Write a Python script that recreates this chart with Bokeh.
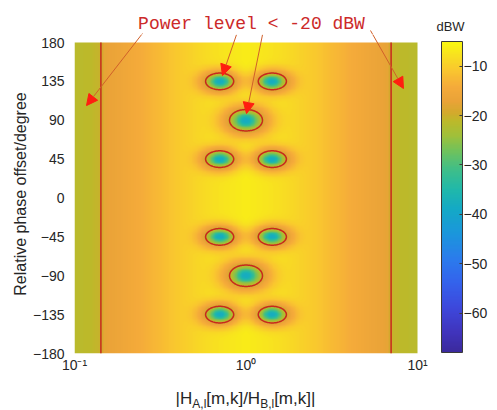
import numpy as np
from bokeh.plotting import figure
from bokeh.layouts import column
from bokeh.models import (LinearColorMapper, ColorBar, FixedTicker, Arrow, NormalHead,
                          ColumnDataSource, Range1d)
from bokeh.core.properties import value
from bokeh.embed import file_html
from bokeh.resources import INLINE

# ---------------- data ----------------
x_ticks = [0.1, 1.0, 10.0]
x_tick_labels = ["10\u207b\u00b9", "10\u2070", "10\u00b9"]
y_ticks = [-180, -135, -90, -45, 0, 45, 90, 135, 180]
cbar_ticks = [-60, -50, -40, -30, -20, -10]
cbar_low, cbar_high = -68.0, -5.0

# power minima (nulls): amplitude ratio, phase offset, size, depth
null_ratio = [0.707, 1.414, 1.0, 0.707, 1.414, 0.707, 1.414, 1.0, 0.707, 1.414]
null_phase = [135, 135, 90, 45, 45, -45, -45, -90, -135, -135]
null_half_width_dec = [0.081, 0.081, 0.092, 0.081, 0.081, 0.081, 0.081, 0.092, 0.081, 0.081]
null_half_height_deg = [9.6, 9.6, 12.3, 9.6, 9.6, 9.6, 9.6, 12.3, 9.6, 9.6]
null_depth_db = [-38, -38, -38, -38, -38, -38, -38, -38, -38, -38]

# background power level across log10 of the amplitude ratio
bg_log_ratio = [-1.0, -0.9, -0.85, -0.845, -0.83, -0.7, -0.55, -0.4, -0.2, 0.0,
                0.2, 0.4, 0.55, 0.7, 0.83, 0.845, 0.85, 0.9, 1.0]
bg_power_db = [-21.5, -21.0, -20.3, -20.0, -17.5, -15.5, -13.0, -10.5, -8.0, -6.5,
               -8.0, -10.5, -13.0, -15.5, -17.5, -20.0, -20.3, -21.0, -21.5]
contour_level = -20.0

# annotation arrows: start / end in (ratio, degree)
arrow_x0 = [0.249, 0.88, 1.248, 5.32]
arrow_y0 = [190.4, 189.0, 189.0, 193.9]
arrow_x1 = [0.1175, 0.729, 1.007, 8.28]
arrow_y1 = [107.0, 141.8, 97.8, 126.8]

# colormap stops (dB -> colour)
cmap_db = [-68, -64, -59, -54, -49, -44, -39, -35, -31, -27, -24, -21, -19.5, -17, -14, -11, -8, -5]
cmap_hex = ["#3b2a9c", "#4034bc", "#3d48dc", "#3462ec", "#2b7cec", "#1b96dc", "#14a9c6",
            "#20b8aa", "#3ebe8a", "#72c25a", "#a0c03a", "#bdb92a", "#d2aa2c", "#eaa338",
            "#f5ab3a", "#f9c430", "#f8de22", "#f9f80f"]

# ---------------- layout constants (pixels) ----------------
W = 497
LEFT, RIGHT_10, TOP_180, BOT = 74, 417, 42, 353
STRIP_TOP = 34
STRIP_BOT = 27
PX_DEC = (RIGHT_10 - LEFT) / 2.0
PX_DEG = (BOT - TOP_180) / 360.0
BASE_SHIFT = 0.32  # renderer draws alphabetic baseline ~0.32 em low


def to_px(xr, yd):
    return LEFT + PX_DEC * (np.log10(xr) + 1), TOP_180 + (180 - np.asarray(yd)) * PX_DEG


# ---------------- build the field ----------------
nx, ny = 420, 361
u = np.linspace(-1, 1, nx)
phi = np.linspace(-180, 180, ny)
U, PHI = np.meshgrid(u, phi)
B = np.interp(U, bg_log_ratio, bg_power_db)
lin = 10 ** (B / 10)
for r0, p0, a, b, d in zip(null_ratio, null_phase, null_half_width_dec,
                           null_half_height_deg, null_depth_db):
    u0 = np.log10(r0)
    b0 = np.interp(u0, bg_log_ratio, bg_power_db)
    eps = 10 ** ((d - b0) / 10)
    f0 = 10 ** ((contour_level - b0) / 10)
    t = -np.log(1 - (f0 - eps) / (1 - eps))
    e = np.sqrt(((U - u0) / a) ** 2 + ((PHI - p0) / b) ** 2)
    lin = lin * (eps + (1 - eps) * (1 - np.exp(-t * e ** 4)))
Z = 10 * np.log10(lin)


def hex2rgb(h):
    return np.array([int(h[i:i + 2], 16) for i in (1, 3, 5)], float)


levels = np.linspace(cbar_low, cbar_high, 256)
rgb = np.array([hex2rgb(h) for h in cmap_hex])
palette = []
for lv in levels:
    c = [np.interp(lv, cmap_db, rgb[:, k]) for k in range(3)]
    palette.append("#%02x%02x%02x" % tuple(int(round(v)) for v in c))
mapper = LinearColorMapper(palette=palette, low=cbar_low, high=cbar_high)

# ---------------- main figure ----------------
main_h = 410 - STRIP_TOP - STRIP_BOT
x_end = 10 ** (-1 + (W - LEFT) / PX_DEC)
y_top = 180 + (TOP_180 - STRIP_TOP) / PX_DEG
p = figure(width=W, height=main_h, x_axis_type="log", title=None,
           x_range=Range1d(0.1, x_end), y_range=Range1d(-180, y_top),
           output_backend="svg", toolbar_location=None,
           min_border_left=LEFT, min_border_right=0, min_border_top=0,
           min_border_bottom=main_h - (BOT - STRIP_TOP))
p.image(image=[Z], x=0.1, y=-180, dw=9.9, dh=360, color_mapper=mapper)
p.contour(x=10 ** U, y=PHI, z=Z, levels=[contour_level], line_color="#c8281e", line_width=1.5)

p.grid.visible = False
p.outline_line_color = None
for ax in (p.xaxis[0], p.yaxis[0]):
    ax.axis_line_color = None
    ax.major_tick_line_color = None
    ax.minor_tick_line_color = None
    ax.major_tick_out = 0
    ax.major_tick_in = 0
    ax.minor_tick_out = 0
    ax.minor_tick_in = 0
    ax.major_label_text_font = "Liberation Sans"
    ax.major_label_text_font_size = "14px"
    ax.major_label_text_color = "#262626"
    ax.axis_label_text_font = "Liberation Sans"
    ax.axis_label_text_font_style = "normal"
    ax.axis_label_text_color = "#262626"
p.xaxis.ticker = FixedTicker(ticks=x_ticks)
p.xaxis.major_label_overrides = {t: s for t, s in zip(x_ticks, x_tick_labels)}
p.xaxis.major_label_standoff = 3
p.yaxis.ticker = FixedTicker(ticks=y_ticks)
p.yaxis.major_label_standoff = 10
p.yaxis.axis_label = "Relative phase offset/degree"
p.yaxis.axis_label_text_font_size = "16px"
p.yaxis.axis_label_standoff = 1

cb = ColorBar(color_mapper=mapper, ticker=FixedTicker(ticks=cbar_ticks), width=21,
              height=BOT - TOP_180, location=(441 - LEFT, 1), padding=0, margin=0,
              bar_line_color="#3a3a3a", major_tick_line_color="#3a3a3a",
              major_tick_in=3, major_tick_out=0, label_standoff=1,
              major_label_text_font="Liberation Sans", major_label_text_font_size="14px",
              major_label_text_color="#262626", background_fill_alpha=0)
p.add_layout(cb, "center")

arrows = ColumnDataSource(dict(x0=arrow_x0, y0=arrow_y0, x1=arrow_x1, y1=arrow_y1))
p.add_layout(Arrow(source=arrows, x_start="x0", y_start="y0", x_end="x1", y_end="y1",
                   line_color="#d0602a", line_width=1,
                   end=NormalHead(size=11, fill_color="#ff1e10", line_color="#ff1e10")))


# ---------------- strips for text outside the plot frame (pixel coordinates) ----------------
def strip(h):
    s = figure(width=W, height=h, x_range=Range1d(LEFT, W), y_range=Range1d(h, 0), title=None,
               output_backend="svg", toolbar_location=None,
               min_border_left=LEFT, min_border_right=0, min_border_top=0, min_border_bottom=0,
               x_axis_location=None, y_axis_location=None)
    s.grid.visible = False
    s.outline_line_color = None
    return s


def put_text(fig, x, baseline, txt, fs, font, color, align):
    fig.text(x=[x], y=[baseline - BASE_SHIFT * fs], text=[txt], text_align=align,
             text_baseline="alphabetic", text_font=value(font),
             text_font_size=value("%dpx" % fs), text_color=color)


top = strip(STRIP_TOP)
put_text(top, 251, 29, "Power level < -20 dBW", 18, "Liberation Mono", "#cc2a2a", "center")
put_text(top, 450, 30, "dBW", 13, "Liberation Sans", "#262626", "center")
sx0, sy0 = to_px(np.array(arrow_x0), arrow_y0)
sx1, sy1 = to_px(np.array(arrow_x1), arrow_y1)
top.segment(x0=sx0, y0=sy0, x1=sx1, y1=sy1, line_color="#d0602a", line_width=1)

bot = strip(STRIP_BOT)
aw = {"|": 260, "H": 722, "A": 667, ",": 278, "l": 222, "[": 278, "m": 833, "k": 500,
      "]": 278, "/": 278, "B": 667}
pieces = [("|H", 17, 0), ("A,l", 12, 4), ("[m,k]/H", 17, 0), ("B,l", 12, 4), ("[m,k]|", 17, 0)]
widths = [sum(aw[c] for c in s_) / 1000 * fs for s_, fs, _ in pieces]
xo = 245 - sum(widths) / 2
base = 403 - (410 - STRIP_BOT)
for (s_, fs, dy), w in zip(pieces, widths):
    put_text(bot, xo, base + dy, s_, fs, "Liberation Sans", "#262626", "left")
    xo += w

layout = column(top, p, bot, spacing=0)
open("out.html", "w").write(file_html(layout, INLINE))
